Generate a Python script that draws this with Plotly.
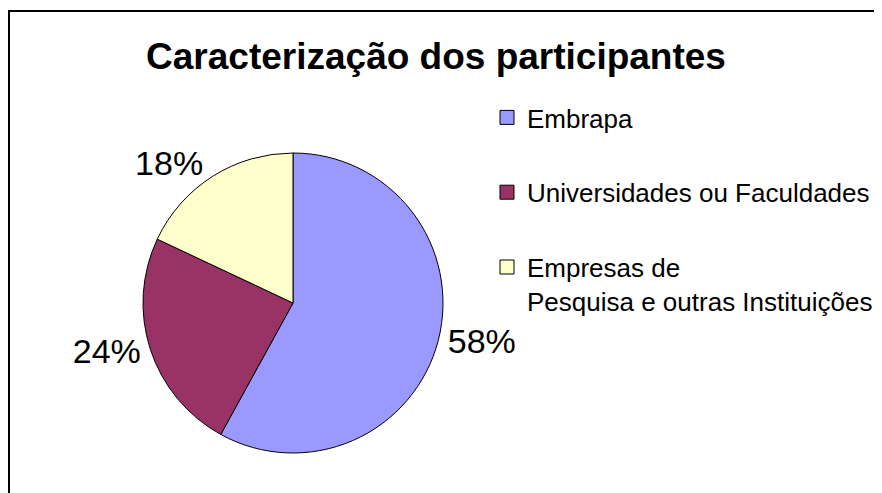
import plotly.graph_objects as go

categories = ["Embrapa", "Universidades ou Faculdades", "Empresas de<br>Pesquisa e outras Instituições"]
values = [58, 24, 18]
pct_labels = ["58%", "24%", "18%"]
colors = ["#9999FF", "#993366", "#FFFFCC"]
title_text = "Caracterização dos participantes"

W, H = 882, 493
FONT = "Arial, 'Liberation Sans', sans-serif"

fig = go.Figure()

fig.add_trace(go.Pie(
    labels=categories,
    values=values,
    text=pct_labels,
    textinfo="text",
    textposition="outside",
    textfont=dict(family=FONT, size=34, color="black"),
    marker=dict(colors=colors, line=dict(color="black", width=1)),
    sort=False,
    direction="clockwise",
    rotation=0,
    showlegend=False,
    hoverinfo="label+percent",
    domain=dict(x=[135 / W, 435 / W], y=[1 - 445 / H, 1 - 145 / H]),
))

# legend entries (one per category)
for cat, col in zip(categories, colors):
    fig.add_trace(go.Scatter(
        x=[None], y=[None], mode="markers", name=cat,
        legendgroup=cat,
        marker=dict(symbol="square", size=14, color=col, line=dict(color="black", width=1)),
        hoverinfo="skip",
    ))

fig.update_layout(
    width=W, height=H,
    margin=dict(l=0, r=0, t=0, b=0),
    paper_bgcolor="white",
    plot_bgcolor="white",
    xaxis=dict(visible=False),
    yaxis=dict(visible=False),
    title=dict(text="<b>" + title_text + "</b>", x=428 / W, xanchor="center",
               y=1 - 48 / H, yanchor="middle",
               font=dict(family=FONT, size=37, color="black")),
    legend=dict(
        x=479 / W, xanchor="left", y=1 - 86 / H, yanchor="top",
        font=dict(family=FONT, size=26, color="black"),
        tracegroupgap=38, valign="top",
        bgcolor="rgba(0,0,0,0)",
    ),
    shapes=[dict(type="rect", xref="paper", yref="paper",
                 x0=1 / W, x1=872 / W, y0=-0.2, y1=1 - 3 / H,
                 line=dict(color="black", width=2), layer="below")],
)

fig.write_html("out.html")
